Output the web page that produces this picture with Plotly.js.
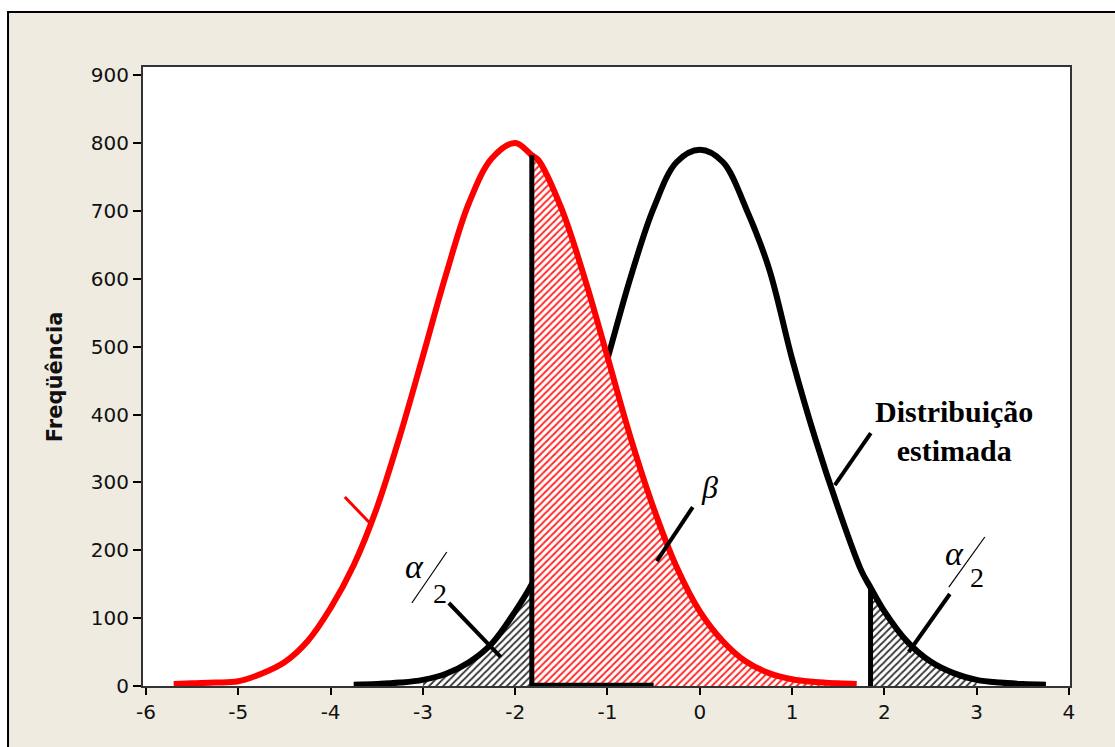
<!DOCTYPE html>
<html><head><meta charset="utf-8">
<script src="https://cdn.plot.ly/plotly-3.0.1.min.js"></script>
<style>html,body{margin:0;padding:0;background:#fff}#chart{width:1115px;height:747px}</style>
</head><body><div id="chart"></div>
<script>
// Red curve (shifted distribution)
const redX = [-5.7,-5.5,-5.25,-5,-4.75,-4.5,-4.25,-4,-3.75,-3.5,-3.25,-3,-2.75,-2.5,-2.25,-2,-1.82,-1.75,-1.5,-1.25,-1,-0.75,-0.5,-0.25,0,0.25,0.5,0.75,1,1.25,1.5,1.7];
const redY = [3,4,5,7,18,35,66,115,178,262,368,486,606,712,778,800,782,775,704,602,485,366,262,175,110,66,36,19,10,6,4,3];
// Black curve ("Distribuição estimada")
const blackX = [-3.75,-3.5,-3.25,-3,-2.75,-2.5,-2.25,-2,-1.82,-1.75,-1.5,-1.25,-1,-0.75,-0.5,-0.25,0,0.25,0.5,0.75,1,1.25,1.5,1.75,1.85,2,2.25,2.5,2.75,3,3.25,3.5,3.75];
const blackY = [2,3,5,9,18,35,63,110,150,172,258,364,482,602,704,772,790,772,704,615,482,365,262,170,145,110,65,36,19,9,5,3,2];
// Axis ticks
const xTickVals = [-6,-5,-4,-3,-2,-1,0,1,2,3,4];
const xTickText = ['-6','-5','-4','-3','-2','-1','0','1','2','3','4'];
const yTickVals = [0,100,200,300,400,500,600,700,800,900];
// Critical values and shaded regions
const critLow = -1.82, critHigh = 1.85;
const alphaLeftRange = [-3, -1.82];
const alphaRightRange = [1.85, 3];
const betaRange = [-1.82, 1.7];
const baseSegX = [-1.82, -0.5], baseSegY = [2, 2];

function sub(xs, ys, r){const ox=[],oy=[];xs.forEach((x,i)=>{if(x>=r[0]-1e-9&&x<=r[1]+1e-9){ox.push(x);oy.push(ys[i]);}});return {x:ox,y:oy};}
function valAt(xs, ys, x){return ys[xs.indexOf(x)];}

const aL = sub(blackX, blackY, alphaLeftRange);
const aR = sub(blackX, blackY, alphaRightRange);
const bt = sub(redX, redY, betaRange);

const hatchBlack = {shape:'/', fgcolor:'#333333', bgcolor:'#ffffff', size:5, solidity:0.35};
const hatchRed = {shape:'/', fgcolor:'#ff2a2a', bgcolor:'#ffffff', size:5, solidity:0.4};

const traces = [
  {x:aL.x, y:aL.y, type:'scatter', mode:'lines', fill:'tozeroy', fillcolor:'rgba(0,0,0,0)', fillpattern:hatchBlack, line:{width:0, shape:'spline'}, hoverinfo:'skip'},
  {x:aR.x, y:aR.y, type:'scatter', mode:'lines', fill:'tozeroy', fillcolor:'rgba(0,0,0,0)', fillpattern:hatchBlack, line:{width:0, shape:'spline'}, hoverinfo:'skip'},
  {x:blackX, y:blackY, type:'scatter', mode:'lines', line:{color:'#000', width:6, shape:'spline'}},
  {x:bt.x, y:bt.y, type:'scatter', mode:'lines', fill:'tozeroy', fillcolor:'rgba(0,0,0,0)', fillpattern:hatchRed, line:{width:0, shape:'spline'}, hoverinfo:'skip'},
  {x:baseSegX, y:baseSegY, type:'scatter', mode:'lines', line:{color:'#000', width:4}},
  {x:redX, y:redY, type:'scatter', mode:'lines', line:{color:'#ff0000', width:6, shape:'spline'}},
  {x:[critLow, critLow], y:[0, valAt(redX, redY, critLow)], type:'scatter', mode:'lines', line:{color:'#000', width:5}},
  {x:[critHigh, critHigh], y:[0, valAt(blackX, blackY, critHigh)], type:'scatter', mode:'lines', line:{color:'#000', width:5}}
];

const serif = 'Liberation Serif, Times New Roman, serif';
const line = (x0,y0,x1,y1,c,w)=>({type:'line', xref:'x', yref:'y', x0, y0, x1, y1, line:{color:c, width:w}});

const layout = {
  width:1115, height:747,
  paper_bgcolor:'#ffffff', plot_bgcolor:'#ffffff',
  margin:{l:143, r:45, t:67, b:61},
  showlegend:false,
  xaxis:{range:[-6.0325, 4.011], tickvals:xTickVals, ticktext:xTickText, ticks:'outside', ticklen:7, tickwidth:2, tickcolor:'#000',
    showline:true, mirror:true, linecolor:'#333', linewidth:2, showgrid:false, zeroline:false,
    tickfont:{family:'DejaVu Sans', size:20, color:'#111'}},
  yaxis:{range:[0, 912], tickvals:yTickVals, ticks:'outside', ticklen:8, tickwidth:2, tickcolor:'#000',
    showline:true, mirror:true, linecolor:'#333', linewidth:2, showgrid:false, zeroline:false,
    tickfont:{family:'DejaVu Sans', size:20, color:'#111'}},
  shapes:[
    {type:'rect', xref:'paper', yref:'paper', x0:-0.1456, x1:1.08, y0:-0.15, y1:1.0889, fillcolor:'#EFEBE1', line:{color:'#000', width:2}, layer:'below'},
    {type:'rect', xref:'paper', yref:'paper', x0:0, x1:1, y0:0, y1:1, fillcolor:'#ffffff', line:{width:0}, layer:'below'},
    line(-3.846,278.4,-3.575,240.1,'#ff0000',3),
    line(1.853,372.7,1.463,296,'#000',4),
    line(-0.076,263.7,-0.466,184.1,'#000',4),
    line(-2.719,122.3,-2.156,42.7,'#000',4),
    line(2.709,135.5,2.264,50.1,'#000',4),
    line(-2.741,197.4,-3.120,122.3,'#000',1.2),
    line(3.088,219.5,2.698,145.8,'#000',1.2)
  ],
  annotations:[
    {xref:'paper', yref:'paper', x:-0.0949, y:0.499, xanchor:'center', yanchor:'middle', text:'<b>Freqüência</b>', textangle:-90, showarrow:false, font:{family:'DejaVu Sans', size:21, color:'#111'}},
    {x:2.752, y:375, text:'<b>Distribuição<br>estimada</b>', showarrow:false, font:{family:serif, size:30, color:'#000'}},
    {x:0.108, y:293, text:'<i>β</i>', showarrow:false, font:{family:serif, size:32, color:'#000'}},
    {x:-3.088, y:176.7, text:'<i>α</i>', showarrow:false, font:{family:serif, size:34, color:'#000'}},
    {x:-2.817, y:137, text:'2', showarrow:false, font:{family:serif, size:28, color:'#000'}},
    {x:2.763, y:195.9, text:'<i>α</i>', showarrow:false, font:{family:serif, size:34, color:'#000'}},
    {x:3.001, y:160.5, text:'2', showarrow:false, font:{family:serif, size:28, color:'#000'}}
  ]
};
Plotly.newPlot('chart', traces, layout, {displayModeBar:false, staticPlot:true});
</script></body></html>
